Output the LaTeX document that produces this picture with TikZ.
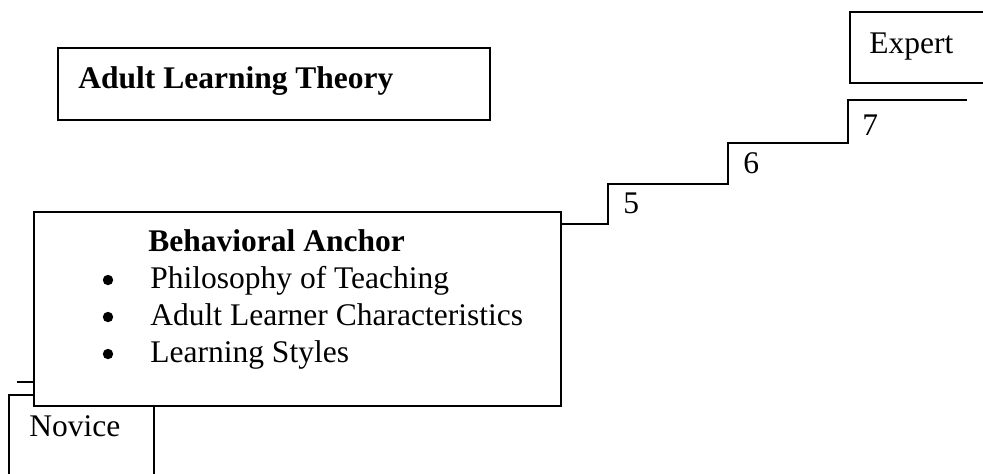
\documentclass[tikz,border=0pt]{standalone}
\usepackage{fontspec}
\setmainfont{Liberation Serif}

\begin{document}
\begin{tikzpicture}[x=0.5pt,y=-0.5pt]
\tikzstyle{caja}=[draw,line width=1.1pt,fill=white,inner sep=0pt,anchor=north west]
\tikzstyle{texto}=[inner sep=0pt,anchor=base west,font=\fontsize{15.75}{18}\selectfont]
\tikzstyle{vineta}=[circle,fill,inner sep=0pt,minimum size=5.2pt]
\tikzstyle{escalon}=[line width=1.1pt]

\useasboundingbox (0,0) rectangle (983,473);
\clip (0,0) rectangle (983,473);

% escalera (parte oculta detras del recuadro)
\draw[escalon] (17,382) -| (450,224) -| (608,184) -| (728,143) -| (848,100) -- (967,100);

\node[caja,minimum width=72.5pt,minimum height=50pt] (novicebox) at (8,394) {};
\node[caja,minimum width=263.5pt,minimum height=97pt] (anchorbox) at (33,211) {};
\node[caja,minimum width=216pt,minimum height=36pt] (theorybox) at (57,47) {};
\node[caja,minimum width=80pt,minimum height=35.5pt] (expertbox) at (849,11) {};

\node[texto,font=\fontsize{15.75}{18}\selectfont\bfseries] (theory) at (78,88) {Adult Learning Theory};
\node[texto] (expert) at (869,53) {Expert};
\node[texto] (novice) at (29,436) {Novice};

\node[texto,font=\fontsize{15.75}{18}\selectfont\bfseries] (anchor) at (148,251) {Behavioral Anchor};
\node[vineta] (b1) at (108,280) {};
\node[vineta] (b2) at (108,317) {};
\node[vineta] (b3) at (108,354) {};
\node[texto] (item1) at (150,288) {Philosophy of Teaching};
\node[texto] (item2) at (150,325) {Adult Learner Characteristics};
\node[texto] (item3) at (150,362) {Learning Styles};

\node[texto] (s5) at (623,213) {5};
\node[texto] (s6) at (743,173) {6};
\node[texto] (s7) at (862,135) {7};
\end{tikzpicture}
\end{document}
